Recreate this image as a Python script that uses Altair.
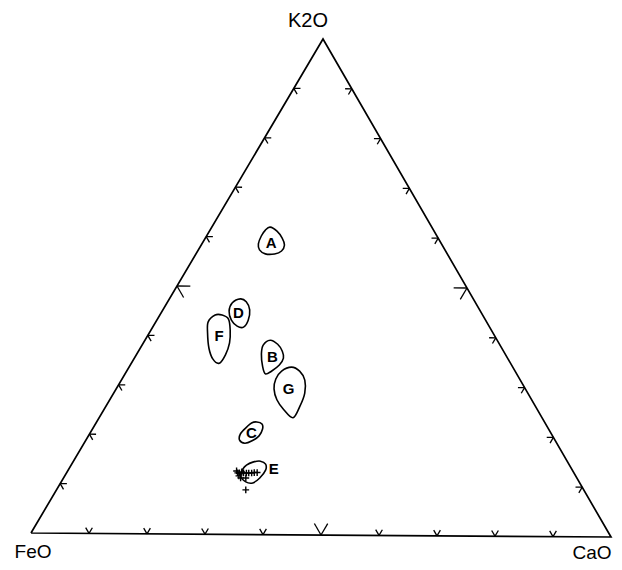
import altair as alt
import pandas as pd

# ---------------- data (ternary percentages) ----------------
corner_names = ["K2O", "FeO", "CaO"]
tick_pcts = [10, 20, 30, 40, 50, 60, 70, 80, 90]

field_names = ["A", "B", "C", "D", "E", "F", "G"]
a_k2o = [62.0, 61.2, 59.8, 58.4, 57.2, 56.6, 56.6, 57.4, 58.6, 60.2, 61.4]
a_cao = [10.0, 11.6, 13.2, 14.3, 14.4, 13.5, 11.9, 10.5, 9.7, 9.4, 9.5]
b_k2o = [39.2, 38.4, 37.0, 35.6, 34.2, 33.0, 32.4, 34.0, 36.4, 38.2]
b_cao = [21.5, 23.2, 24.7, 25.6, 25.6, 24.9, 24.1, 22.8, 21.4, 20.8]
c_k2o = [22.7, 22.3, 21.3, 19.9, 18.9, 18.4, 19.0, 20.3, 21.7, 22.5]
c_cao = [27.5, 28.6, 29.2, 29.3, 28.6, 27.6, 26.4, 25.9, 26.3, 26.7]
d_k2o = [47.5, 46.9, 45.3, 43.2, 41.8, 42.0, 43.2, 45.0, 46.7]
d_cao = [12.2, 13.5, 14.9, 15.7, 15.6, 14.4, 12.8, 11.5, 11.2]
e_k2o = [14.6, 14.8, 14.2, 13.0, 11.4, 10.4, 10.6, 11.8, 13.2, 14.0]
e_cao = [30.9, 32.1, 33.3, 33.9, 33.7, 33.0, 31.7, 30.2, 29.9, 30.1]
f_k2o = [44.2, 44.2, 43.4, 41.2, 38.6, 36.2, 34.5, 35.3, 37.5, 40.6, 42.8]
f_cao = [9.5, 10.7, 12.2, 13.6, 14.8, 15.3, 15.1, 13.6, 11.8, 10.0, 9.0]
g_k2o = [33.8, 33.0, 31.2, 28.6, 26.0, 23.6, 25.2, 27.2, 29.4, 31.4, 33.0]
g_cao = [27.9, 29.7, 31.5, 32.8, 33.3, 33.3, 30.9, 28.7, 27.1, 26.4, 26.6]

label_k2o = [58.8, 35.8, 20.5, 44.6, 13.2, 40.0, 29.4]
label_cao = [11.8, 23.6, 27.7, 13.3, 35.2, 12.3, 29.6]

cross_k2o = [12.4, 12.4, 12.6, 12.4, 12.4, 12.4, 12.4, 12.5, 12.5, 11.8, 11.4, 11.4, 12.8, 9.0]
cross_cao = [29.4, 29.7, 30.0, 30.4, 30.9, 31.3, 31.8, 32.2, 32.7, 29.9, 30.4, 31.3, 29.0, 32.5]

# ---------------- layout (vertex placement in drawing units) ----------------
VX = {"FeO": 31, "CaO": 611, "K2O": 323}
VY = {"FeO": 533, "CaO": 537, "K2O": 39}
SMALL, BIG = 1.15, 2.3


def to_xy(k2o, cao):
    feo = 100.0 - k2o - cao
    x = (VX["FeO"] * feo + VX["CaO"] * cao + VX["K2O"] * k2o) / 100.0
    y = (VY["FeO"] * feo + VY["CaO"] * cao + VY["K2O"] * k2o) / 100.0
    return x, y


frame_pts = [(0, 0), (0, 100), (100, 0), (0, 0)]  # FeO, CaO, K2O, FeO
frame_df = pd.DataFrame(
    [{"x": to_xy(k, c)[0], "y": to_xy(k, c)[1], "o": i} for i, (k, c) in enumerate(frame_pts)]
)

stub_rows = []
for p in tick_pcts:
    L = BIG if p == 50 else SMALL
    segs = [
        ((0, p), (L, p)), ((0, p), (L, p - L)),
        ((p, 0), (p, L)), ((p, 0), (p - L, L)),
        ((p, 100 - p), (p, 100 - p - L)), ((p, 100 - p), (p - L, 100 - p)),
    ]
    for (k1, c1), (k2, c2) in segs:
        x1, y1 = to_xy(k1, c1)
        x2, y2 = to_xy(k2, c2)
        stub_rows.append({"x": x1, "y": y1, "x2": x2, "y2": y2})
stub_df = pd.DataFrame(stub_rows)

outlines = {
    "A": (a_k2o, a_cao), "B": (b_k2o, b_cao), "C": (c_k2o, c_cao),
    "D": (d_k2o, d_cao), "E": (e_k2o, e_cao), "F": (f_k2o, f_cao),
    "G": (g_k2o, g_cao),
}
out_rows = []
for name, (ks, cs) in outlines.items():
    for i, (k, c) in enumerate(zip(ks, cs)):
        x, y = to_xy(k, c)
        out_rows.append({"field": name, "x": x, "y": y, "o": i})
out_df = pd.DataFrame(out_rows)

lab_df = pd.DataFrame(
    [{"field": n, "x": to_xy(k, c)[0], "y": to_xy(k, c)[1]}
     for n, k, c in zip(field_names, label_k2o, label_cao)]
)

cross_df = pd.DataFrame(
    [{"x": to_xy(k, c)[0], "y": to_xy(k, c)[1]} for k, c in zip(cross_k2o, cross_cao)]
)

corner_df = pd.DataFrame(
    [{"name": n, "x": to_xy(*kc)[0], "y": to_xy(*kc)[1]}
     for n, kc in zip(corner_names, [(100, 0), (0, 0), (0, 100)])]
)

# ---------------- chart ----------------
xs = alt.Scale(domain=[8, 614], nice=False, zero=False)
ys = alt.Scale(domain=[8, 562], reverse=True, nice=False, zero=False)


def X(f="x"):
    return alt.X(f"{f}:Q", scale=xs, axis=None)


def Y(f="y"):
    return alt.Y(f"{f}:Q", scale=ys, axis=None)


frame = alt.Chart(frame_df).mark_line(
    color="black", strokeWidth=1.7, strokeJoin="miter"
).encode(x=X(), y=Y(), order="o:Q")

stubs = alt.Chart(stub_df).mark_rule(color="black", strokeWidth=1.3).encode(
    x=X(), y=Y(), x2="x2:Q", y2="y2:Q"
)

blobs = alt.Chart(out_df).mark_line(
    color="black", strokeWidth=1.6, interpolate="cardinal-closed"
).encode(x=X(), y=Y(), detail="field:N", order="o:Q")

labels = alt.Chart(lab_df).mark_text(
    font="Liberation Sans", fontWeight="bold", fontSize=15, color="black",
    align="center", baseline="middle"
).encode(x=X(), y=Y(), text="field:N")

crosses = alt.Chart(cross_df).mark_point(
    shape="M-1,0L1,0M0,-1L0,1", size=45, strokeWidth=1.4, color="black",
    filled=False, opacity=1
).encode(x=X(), y=Y())


def corner_text(name, dx, dy, size=20):
    return alt.Chart(corner_df[corner_df["name"] == name]).mark_text(
        font="Liberation Sans", fontSize=size, color="black",
        align="center", baseline="middle", dx=dx, dy=dy
    ).encode(x=X(), y=Y(), text="name:N")


chart = alt.layer(
    frame, stubs, blobs, crosses, labels,
    corner_text("K2O", -15, -18),
    corner_text("FeO", 2, 19, 19),
    corner_text("CaO", -19, 16, 19),
).properties(
    width=606, height=554, padding=0, background="white",
    autosize=alt.AutoSizeParams(type="none"),
).configure_view(stroke=None)

chart.save("out.html", embed_options={"renderer": "svg", "actions": False})
